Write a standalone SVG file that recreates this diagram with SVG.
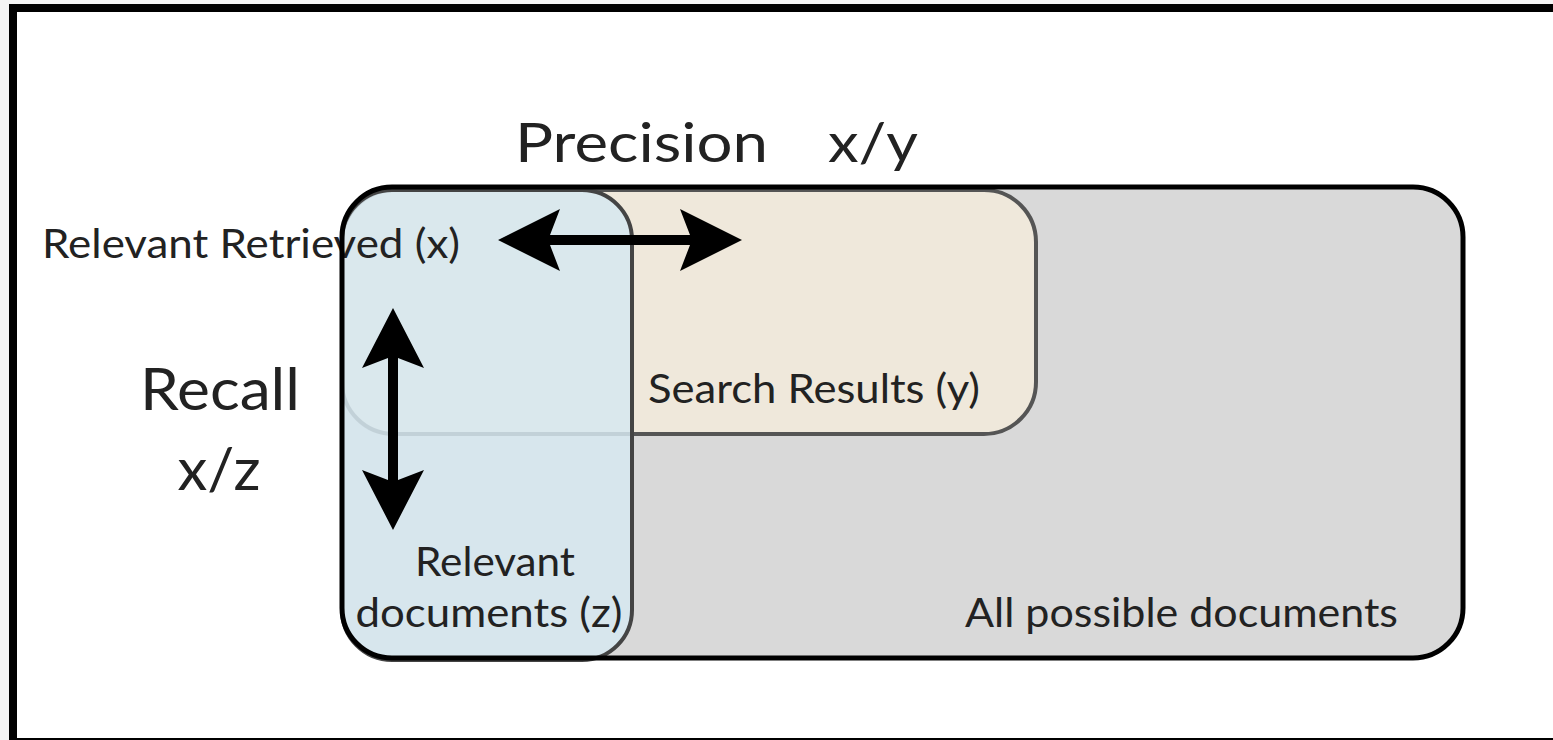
<svg xmlns="http://www.w3.org/2000/svg" width="1553" height="740" viewBox="0 0 1553 740">
<defs>
<style>
.t{font-family:Lato,"Open Sans","Liberation Sans",sans-serif;fill:#222}
.arrow{fill:#000}
</style>
</defs>
<rect x="0" y="0" width="1553" height="740" fill="#f4f4f4"/>
<rect x="9" y="4" width="1544" height="736" fill="#fff"/>
<g id="frame">
<rect x="9" y="4" width="8" height="736" fill="#000"/>
<rect x="9" y="4" width="1544" height="8" fill="#000"/>
<rect x="9" y="738" width="1544" height="2" fill="#000"/>
</g>
<g id="all-documents">
<rect x="342" y="187" width="1121" height="471" rx="50" fill="#d9d9d9"/>
<text class="t" x="965" y="627" font-size="40" textLength="433" lengthAdjust="spacingAndGlyphs">All possible documents</text>
</g>
<g id="search-results">
<rect x="342" y="190" width="694" height="244" rx="52" fill="#efe8db" stroke="#555" stroke-width="4"/>
<text class="t" x="648" y="403" font-size="40" textLength="332" lengthAdjust="spacingAndGlyphs">Search Results (y)</text>
</g>
<g id="relevant-documents">
<rect x="342" y="190" width="290" height="470" rx="50" fill="#d6e8f0" fill-opacity="0.85" stroke="#444" stroke-width="4"/>
<text class="t" x="495" y="576" font-size="40" text-anchor="middle" textLength="160" lengthAdjust="spacingAndGlyphs">Relevant</text>
<text class="t" x="489" y="627" font-size="40" text-anchor="middle" textLength="267" lengthAdjust="spacingAndGlyphs">documents (z)</text>
</g>
<g id="relevant-retrieved">
<text class="t" x="42" y="258" font-size="40" textLength="418" lengthAdjust="spacingAndGlyphs">Relevant Retrieved (x)</text>
</g>
<g id="all-documents-border">
<rect x="342" y="187" width="1121" height="471" rx="50" fill="none" stroke="#000" stroke-width="5"/>
</g>
<g id="precision-label">
<text class="t" x="515" y="162" font-size="54" textLength="253" lengthAdjust="spacingAndGlyphs">Precision</text>
<text class="t" x="828" y="162" font-size="54" textLength="90" lengthAdjust="spacingAndGlyphs">x/y</text>
</g>
<g id="recall-label">
<text class="t" x="220" y="410" font-size="58" text-anchor="middle" textLength="160" lengthAdjust="spacingAndGlyphs">Recall</text>
<text class="t" x="219" y="490" font-size="58" text-anchor="middle" textLength="83" lengthAdjust="spacingAndGlyphs">x/z</text>
</g>
<g id="connectors">
<path class="arrow" d="M498,240 L560,209 L550,235 L690,235 L680,209 L742,240 L680,271 L690,245 L550,245 L560,271 Z"/>
<path class="arrow" d="M393,308 L424,368 L398,358 L398,480 L424,470 L393,530 L362,470 L388,480 L388,358 L362,368 Z"/>
</g>
</svg>
